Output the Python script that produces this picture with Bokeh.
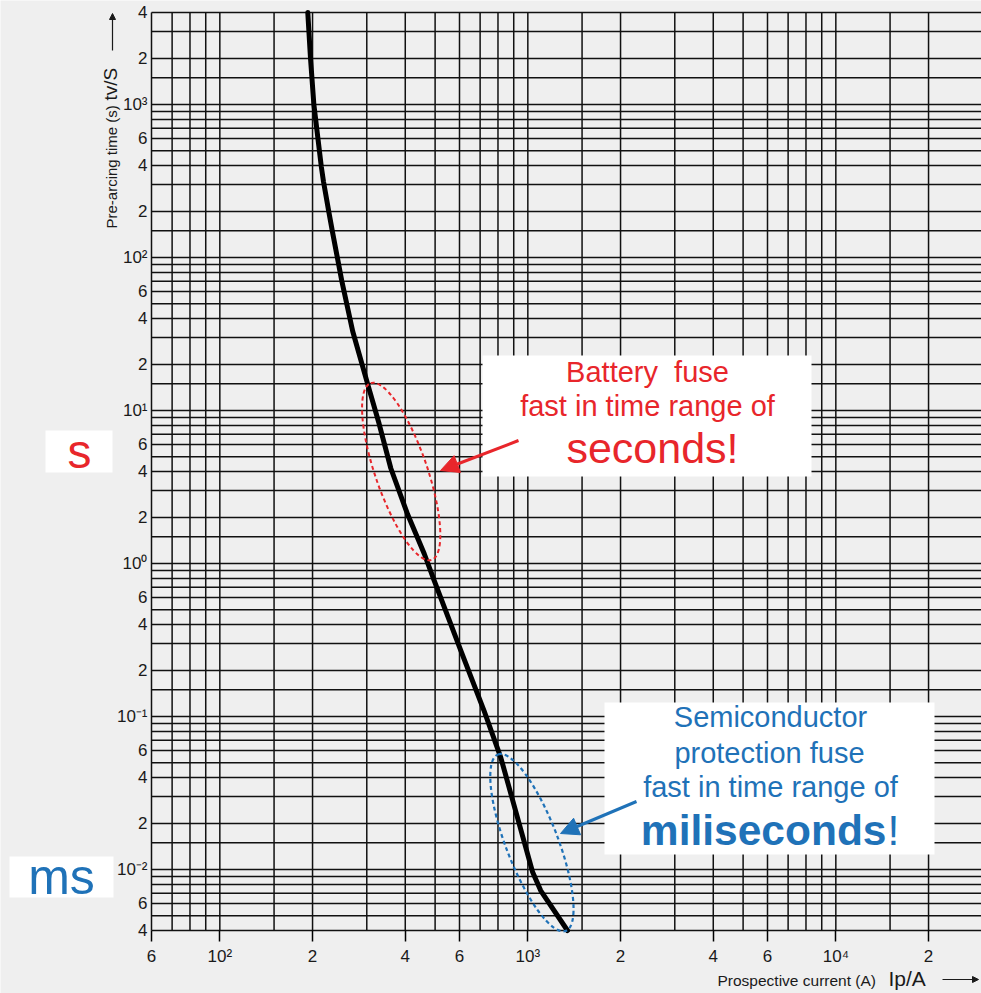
import math
from bokeh.plotting import figure
from bokeh.models import (Range1d, FixedTicker, CustomJSTickFormatter, Label,
                          BoxAnnotation, Arrow, NormalHead)
from bokeh.embed import file_html
from bokeh.resources import INLINE

# ---------------- data ----------------
current_A = [193, 197, 202, 213.5, 217, 226, 232, 241, 249, 270, 302, 329, 359, 407, 461, 497,
             606, 720, 817, 1037, 1101, 1345]
time_s = [4000, 2000, 1000, 394, 315, 198, 148, 99, 70, 33, 14.9, 8.2, 4.2, 2.1, 1.16, 0.77,
          0.27, 0.11, 0.054, 0.0096, 0.0073, 0.004]

highlight_I = [388, 1031]      # centres of the highlighted regions (A)
highlight_t = [4.0, 0.0150]    # (s)

x_tick_vals = [60, 100, 200, 400, 600, 1000, 2000, 4000, 6000, 10000, 20000]
x_tick_labels = ["6", "10²", "2", "4", "6", "10³", "2", "4", "6", "10⁴", "2"]
y_tick_vals = [4000, 2000, 1000, 600, 400, 200, 100, 60, 40, 20, 10, 6, 4, 2, 1,
               0.6, 0.4, 0.2, 0.1, 0.06, 0.04, 0.02, 0.01, 0.006, 0.004]
y_tick_labels = ["4", "2", "10³", "6", "4", "2", "10²", "6", "4", "2", "10¹", "6", "4", "2", "10⁰",
                 "6", "4", "2", "10⁻¹", "6", "4", "2", "10⁻²", "6", "4"]
grid_mult = [1, 1.5, 2, 3, 4, 5, 6, 7, 8, 9]

# ---------------- layout (canvas pixels <-> data) ----------------
W, H = 981, 993
FX0, DEC_X = 151, 308.0          # pixel of x = 60, pixels per decade
FY0, FY1 = 12, 930               # pixels of t = 4000 and t = 0.004
X_MIN = 60.0
Y_MIN, Y_MAX = 0.004, 4000.0
DEC_Y = (FY1 - FY0) / 6.0

def dx(px):
    return X_MIN * 10 ** ((px - FX0) / DEC_X)

def dy(py):
    return Y_MAX * 10 ** (-(py - FY0) / DEC_Y)

X_END = dx(W)

RED = "#e8262b"
BLUE = "#1f72b8"
BG = "#efefef"
INK = "#1a1a1a"
FONT = "Liberation Sans"

p = figure(width=W, height=H, x_axis_type="log", y_axis_type="log",
           x_range=Range1d(dx(0), dx(W)), y_range=Range1d(dy(H), dy(0)),
           output_backend="svg", toolbar_location=None,
           background_fill_color=BG, border_fill_color=BG, outline_line_color=None,
           min_border=0, min_border_left=0, min_border_right=0, min_border_top=0, min_border_bottom=0)
p.grid.visible = False

# grid of the log paper
grid_x = [m * 10 ** d for d in range(1, 5) for m in grid_mult if X_MIN * 0.999 <= m * 10 ** d <= X_END]
grid_y = [m * 10 ** d for d in range(-3, 4) for m in grid_mult if Y_MIN * 0.999 <= m * 10 ** d <= Y_MAX * 1.001]
p.segment(x0=grid_x, y0=[Y_MIN] * len(grid_x), x1=grid_x, y1=[Y_MAX] * len(grid_x),
          line_color="#111111", line_width=1.5)
p.segment(x0=[X_MIN] * len(grid_y), y0=grid_y, x1=[X_END * 2] * len(grid_y), y1=grid_y,
          line_color="#111111", line_width=1.5)

# axes, placed on the edges of the log paper
code = """
let best = 0, bd = Infinity;
for (let i = 0; i < v.length; i++) {
  const d = Math.abs(Math.log(tick) - Math.log(v[i]));
  if (d < bd) { bd = d; best = i; }
}
return l[best];
"""
p.xaxis.ticker = FixedTicker(ticks=x_tick_vals)
p.xaxis.formatter = CustomJSTickFormatter(args=dict(v=x_tick_vals, l=x_tick_labels), code=code)
p.yaxis.ticker = FixedTicker(ticks=y_tick_vals)
p.yaxis.formatter = CustomJSTickFormatter(args=dict(v=y_tick_vals, l=y_tick_labels), code=code)
p.xaxis.fixed_location = Y_MIN
p.yaxis.fixed_location = X_MIN
p.xaxis.bounds = (X_MIN * 0.999, X_END)
p.yaxis.bounds = (Y_MIN * 0.999, Y_MAX * 1.001)

for ax in (p.xaxis, p.yaxis):
    ax.axis_line_color = None
    ax.major_tick_line_color = "black"
    ax.major_tick_line_width = 1.5
    ax.minor_tick_line_color = None
    ax.major_tick_in = 0
    ax.major_label_text_font = FONT
    ax.major_label_text_font_size = "17px"
    ax.major_label_text_color = INK
p.xaxis.major_tick_out = 11
p.xaxis.major_label_standoff = 5
p.yaxis.major_tick_out = 0
p.yaxis.major_label_standoff = 4

# characteristic curve
p.line(current_A, time_s, line_color="black", line_width=5, line_join="round", line_cap="round")

# highlighted regions
p.ellipse(x=highlight_I[:1], y=highlight_t[:1], width=187, height=52,
          width_units="screen", height_units="screen", angle=math.radians(109),
          fill_color=None, line_color=RED, line_width=2, line_dash="4 3")
p.ellipse(x=highlight_I[1:], y=highlight_t[1:], width=189, height=52,
          width_units="screen", height_units="screen", angle=math.radians(111),
          fill_color=None, line_color=BLUE, line_width=2.2, line_dash="4 3")

# white boxes
for (l, r, t, b) in [(482, 811, 355, 476), (604, 934, 702, 854), (45, 112, 430, 472), (9, 113, 856, 897)]:
    p.add_layout(BoxAnnotation(left=dx(l), right=dx(r), top=dy(t), bottom=dy(b),
                               fill_color="white", fill_alpha=1.0, line_color=None))

MID = 0.33  # distance from em-box middle to the baseline, in font sizes

def lab(px, py, text, size, color, align="center", style="normal", rotated=False):
    # (px, py) is the wanted start/centre of the text on its baseline
    if rotated:
        ax_, ay_, ang = px - MID * size, py, math.pi / 2
    else:
        ax_, ay_, ang = px, py - MID * size, 0.0
    p.add_layout(Label(x=dx(ax_), y=dy(ay_), text=text, text_font=FONT, text_font_size=f"{size}px",
                       text_color=color, text_align=align, text_baseline="middle",
                       text_font_style=style, angle=ang))

lab(647, 381, "Battery\u00a0 fuse", 29, RED)
lab(647, 415, "fast in time range of", 29, RED)
lab(652, 462, "seconds!", 43, RED)

lab(770, 726, "Semiconductor", 29, BLUE)
lab(769, 762, "protection fuse", 29, BLUE)
lab(770, 796, "fast in time range of", 29, BLUE)
lab(886, 844, "miliseconds", 42.5, BLUE, align="right", style="bold")
lab(887, 844, "!", 42.5, BLUE, align="left")

lab(79, 467, "s", 48, RED)
lab(61, 893, "ms", 50, BLUE)

# axis titles
lab(116, 228, "Pre-arcing time (s)", 15, INK, align="left", rotated=True)
lab(116, 100, "tv/S", 19, INK, align="left", rotated=True)
lab(717, 985, "Prospective current (A)", 15.5, INK, align="left")
lab(888, 985, "Ip/A", 21, INK, align="left")

# arrows
p.add_layout(Arrow(x_start=dx(518), y_start=dy(440), x_end=dx(440), y_end=dy(470),
                   line_color=RED, line_width=3,
                   end=NormalHead(size=18, fill_color=RED, line_color=RED)))
p.add_layout(Arrow(x_start=dx(636), y_start=dy(801), x_end=dx(560), y_end=dy(833),
                   line_color=BLUE, line_width=3,
                   end=NormalHead(size=18, fill_color=BLUE, line_color=BLUE)))
p.add_layout(Arrow(x_start=dx(112), y_start=dy(50), x_end=dx(112), y_end=dy(13),
                   line_color=INK, line_width=1.2,
                   end=NormalHead(size=6, fill_color=INK, line_color=INK)))
p.add_layout(Arrow(x_start=dx(942), y_start=dy(979), x_end=dx(978), y_end=dy(979),
                   line_color=INK, line_width=1.2,
                   end=NormalHead(size=6, fill_color=INK, line_color=INK)))

open("out.html", "w").write(file_html(p, INLINE))
